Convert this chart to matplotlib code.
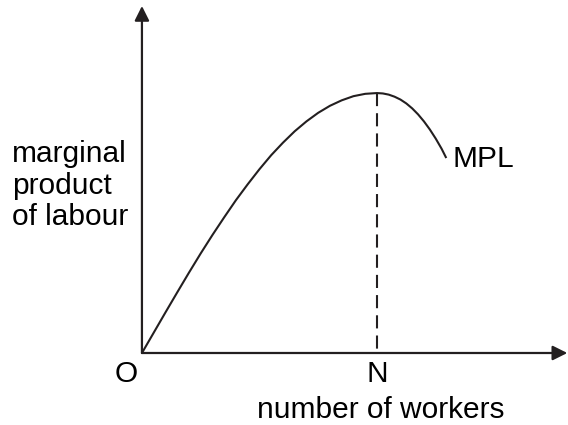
import matplotlib.pyplot as plt

plt.rcParams['font.family'] = ['Liberation Sans', 'DejaVu Sans']

# marginal product curve (N = 10 workers, peak MPL = 10)
workers = [0, 0.5, 1, 1.5, 2, 2.5, 3, 3.5, 4, 4.5, 5, 5.5, 6, 6.5, 7, 7.5,
           8, 8.5, 9, 9.5, 10, 10.25, 10.5, 10.75, 11, 11.25, 11.5, 11.75,
           12, 12.25, 12.5, 12.75, 12.95]
mpl = [0, 0.78, 1.56, 2.33, 3.09, 3.83, 4.54, 5.22, 5.88, 6.49, 7.07, 7.61,
       8.09, 8.53, 8.91, 9.24, 9.51, 9.72, 9.88, 9.97, 10, 9.985, 9.94, 9.86,
       9.75, 9.6, 9.41, 9.18, 8.91, 8.6, 8.25, 7.86, 7.5]
n_workers = 10
peak_mpl = 10

ink = '#231f20'

fig = plt.figure(figsize=(5.68, 4.25), dpi=100)
ax = fig.add_axes([0, 0, 1, 1])
ax.set_xlim(-6.04, 18.13)
ax.set_ylim(-2.77, 13.58)
ax.axis('off')

# axes with arrow heads
arrow = dict(arrowstyle='-|>', color=ink, lw=1.6, mutation_scale=22,
             shrinkA=0, shrinkB=0)
ax.annotate('', xy=(0, 13.35), xytext=(0, 0), arrowprops=arrow)
ax.annotate('', xy=(18.1, 0), xytext=(0, 0), arrowprops=arrow)

# the curve and the dashed line at its peak
ax.plot(workers, mpl, color=ink, lw=1.5, solid_capstyle='butt',
        solid_joinstyle='round')
ax.plot([n_workers, n_workers], [peak_mpl, 0], color=ink, lw=1.5,
        linestyle=(0, (6.3, 3.4)))

fs = 21.5
fig.text(12 / 568, 1 - 140 / 425, 'marginal\nproduct\nof labour',
         ha='left', va='top', fontsize=fs, linespacing=1.17)
ax.text(-0.65, -0.8, 'O', ha='center', va='center', fontsize=fs)
ax.text(n_workers, -0.8, 'N', ha='center', va='center', fontsize=fs)
ax.text(n_workers + 0.15, -2.2, 'number of workers', ha='center',
        va='center', fontsize=fs)
ax.text(13.2, 7.45, 'MPL', ha='left', va='center', fontsize=fs)

fig.savefig('out.png', dpi=100)
